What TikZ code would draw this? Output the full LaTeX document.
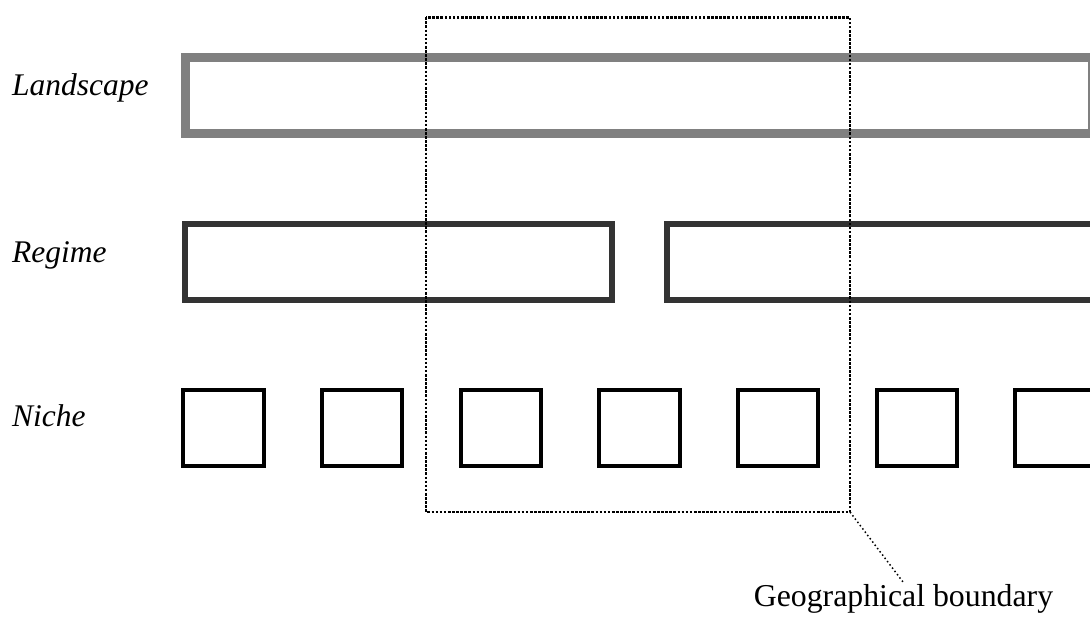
\documentclass[tikz,border=0pt]{standalone}
\usepackage{fontspec}
\setmainfont{Liberation Serif}
\begin{document}
\begin{tikzpicture}[x=1pt,y=-1pt,
  lvl/.style={font=\fontsize{31.5}{36}\selectfont\itshape, anchor=base west, inner sep=0pt},
  landbox/.style={draw=black!50, line width=9pt},
  regbox/.style={draw=black!80, line width=6pt},
  nichebox/.style={draw=black, line width=4pt},
  boundary/.style={draw=black, line width=2.6pt, dash pattern=on 2.6pt off 1.5pt},
  leader/.style={draw=black, line width=1.5pt, dash pattern=on 1.5pt off 2.6pt}]
\useasboundingbox (0,0) rectangle (1090,617);
\begin{scope}
\clip (0,0) rectangle (1090,617);
% labels
\node[lvl] (lland) at (12,96) {Landscape};
\node[lvl] (lreg) at (12,263) {Regime};
\node[lvl] (lniche) at (12,427) {Niche};
% landscape
\draw[landbox] (185.5,57.5) rectangle (1092.5,133.5);
% regimes
\draw[regbox] (184.5,224) rectangle (612,300.5);
\draw[regbox] (667,224) rectangle (1110,300.5);
% niches
\foreach \i in {0,...,6}{
  \draw[nichebox] ({183.3+138.67*\i},390) rectangle ({263.7+138.67*\i},466);
}
% geographical boundary
\draw[boundary] (426,17.3) rectangle (850,512);
\coordinate (corner) at (850,512);
\coordinate (leadend) at (903,582);
\node[font=\fontsize{31.8}{36}\selectfont, anchor=base, inner sep=0pt] (geo) at (903.5,606) {Geographical boundary};
\draw[leader] (corner) -- (leadend);
\end{scope}
\end{tikzpicture}
\end{document}
